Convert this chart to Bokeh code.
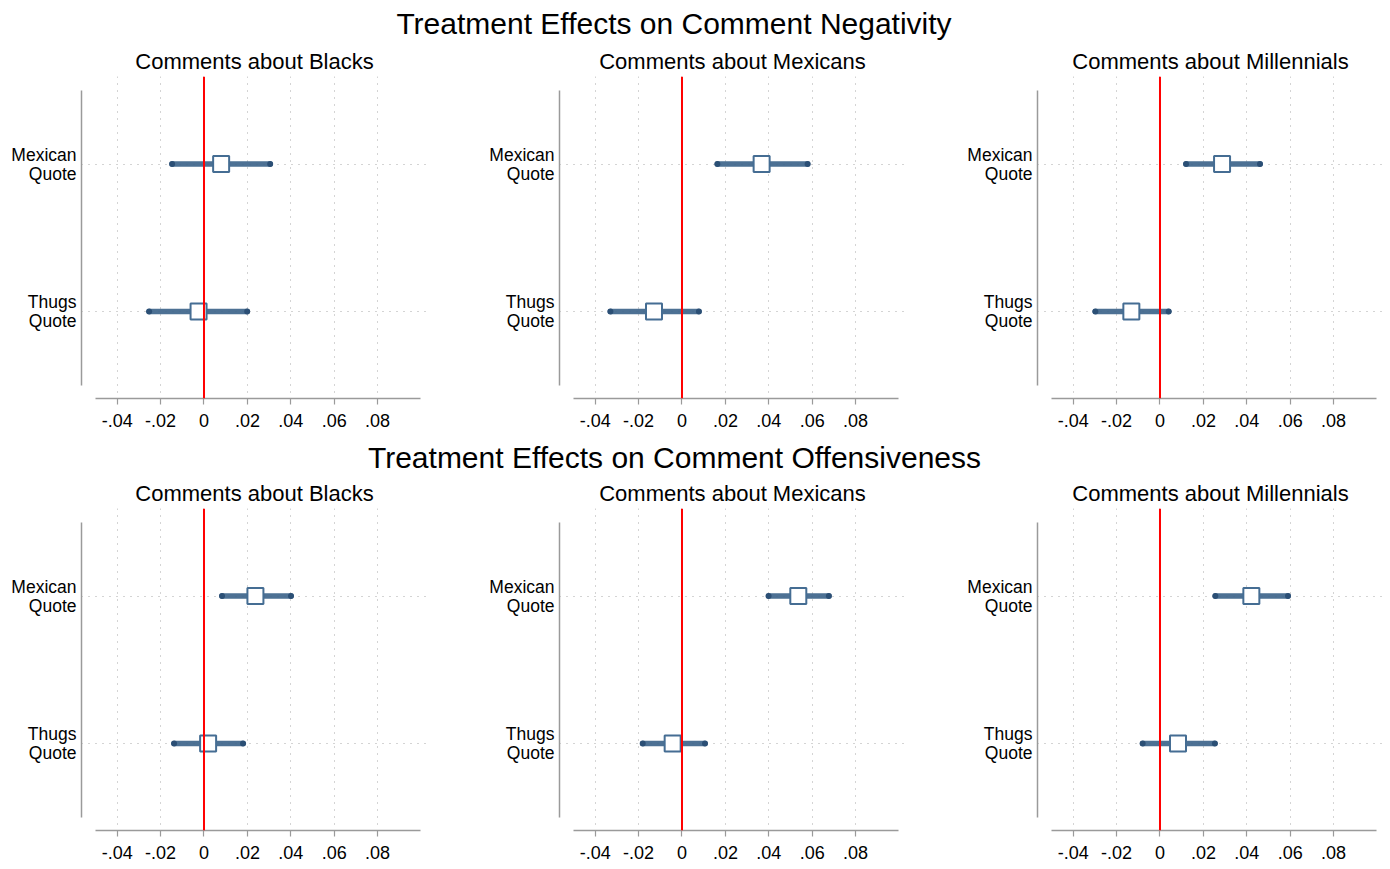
from bokeh.plotting import figure
from bokeh.layouts import column, row
from bokeh.models import Range1d, FixedTicker, Span, ColumnDataSource
from bokeh.core.properties import value
from bokeh.embed import file_html
from bokeh.resources import INLINE

# ---------------- data ----------------
categories = ["Mexican\nQuote", "Thugs\nQuote"]
cat_pos = [1, 2]
panel_titles = ["Comments about Blacks", "Comments about Mexicans", "Comments about Millennials"]
row_titles = ["Treatment Effects on Comment Negativity",
              "Treatment Effects on Comment Offensiveness"]
xtick_values = [-0.04, -0.02, 0.0, 0.02, 0.04, 0.06, 0.08]
xtick_labels = ["-.04", "-.02", "0", ".02", ".04", ".06", ".08"]

# Negativity: [Mexican Quote, Thugs Quote]
neg_blacks_est = [0.0079, -0.0025]
neg_blacks_lo = [-0.0147, -0.0253]
neg_blacks_hi = [0.0305, 0.0199]
neg_mexicans_est = [0.0367, -0.0129]
neg_mexicans_lo = [0.0163, -0.0330]
neg_mexicans_hi = [0.0579, 0.0078]
neg_millennials_est = [0.0286, -0.0132]
neg_millennials_lo = [0.0120, -0.0298]
neg_millennials_hi = [0.0461, 0.0040]

# Offensiveness
off_blacks_est = [0.0237, 0.0019]
off_blacks_lo = [0.0083, -0.0138]
off_blacks_hi = [0.0401, 0.0180]
off_mexicans_est = [0.0536, -0.0043]
off_mexicans_lo = [0.0399, -0.0181]
off_mexicans_hi = [0.0677, 0.0106]
off_millennials_est = [0.0421, 0.0083]
off_millennials_lo = [0.0255, -0.0080]
off_millennials_hi = [0.0590, 0.0253]

FONT = "Liberation Sans"
TOTAL_W = 1383
AXIS_GRAY = "#9a9a9a"
GRID_GRAY = "#a8a8a8"
BAR_COLOR = "#3e658b"
END_COLOR = "#2b4f75"
SQ_COLOR = "#456d93"

BORDER_L = 81
BORDER_T = 33
FRAME_H = 322
BORDER_B = 37
ROW_H = BORDER_T + FRAME_H + BORDER_B
FRAME_W = 346


def title_fig(text, h, yc, xc):
    p = figure(width=TOTAL_W, height=h, x_range=Range1d(0, TOTAL_W), y_range=Range1d(0, h),
               toolbar_location=None, output_backend="svg", min_border=0)
    p.axis.visible = False
    p.grid.visible = False
    p.outline_line_color = None
    p.text(x=[xc], y=[yc], text=[text], text_align="center", text_baseline="middle",
           text_font=value(FONT), text_font_size="30px", text_color="black")
    return p


def panel(title, est, lo, hi, last):
    mbr = 0 if last else 478 - BORDER_L - FRAME_W
    w = BORDER_L + FRAME_W + mbr
    p = figure(width=w, height=ROW_H,
               x_range=Range1d(-0.05645, 0.1030), y_range=Range1d(2.591, 0.406),
               toolbar_location=None, output_backend="svg",
               min_border_left=BORDER_L, min_border_right=mbr,
               min_border_top=BORDER_T, min_border_bottom=BORDER_B, title=title)
    p.outline_line_color = None
    p.title.text_font = FONT
    p.title.text_font_size = "22px"
    p.title.text_font_style = "normal"
    p.title.text_color = "black"
    p.title.align = "center"
    p.title.standoff = 5

    # x axis
    xa = p.xaxis[0]
    xa.ticker = FixedTicker(ticks=xtick_values)
    xa.major_label_overrides = {v: l for v, l in zip(xtick_values, xtick_labels)}
    xa.bounds = (-0.05, 0.1)
    xa.axis_line_color = AXIS_GRAY
    xa.axis_line_width = 1.5
    xa.major_tick_line_color = AXIS_GRAY
    xa.major_tick_line_width = 1.2
    xa.major_tick_out = 6
    xa.major_tick_in = 0
    xa.minor_tick_line_color = None
    xa.major_label_text_font = FONT
    xa.major_label_text_font_size = "18px"
    xa.major_label_text_color = "black"
    xa.major_label_standoff = 9

    # y axis
    ya = p.yaxis[0]
    ya.ticker = FixedTicker(ticks=cat_pos)
    ya.major_label_overrides = {c: l for c, l in zip(cat_pos, categories)}
    ya.bounds = (0.5, 2.5)
    ya.axis_line_color = AXIS_GRAY
    ya.axis_line_width = 1.5
    ya.major_tick_out = 0
    ya.major_tick_in = 0
    ya.major_tick_line_color = None
    ya.minor_tick_line_color = None
    ya.major_label_text_font = FONT
    ya.major_label_text_font_size = "17.5px"
    ya.major_label_text_line_height = 0.95
    ya.major_label_text_color = "black"
    ya.major_label_standoff = 5

    for g in (p.xgrid[0], p.ygrid[0]):
        g.grid_line_color = GRID_GRAY
        g.grid_line_dash = "1 6"
        g.grid_line_width = 1

    src = ColumnDataSource(dict(y=cat_pos, est=est, lo=lo, hi=hi))
    p.segment(x0="lo", y0="y", x1="hi", y1="y", source=src, line_width=5.5,
              line_color=BAR_COLOR, line_alpha=0.92, line_cap="round")
    p.scatter(x="lo", y="y", source=src, size=6, color=END_COLOR, line_width=0)
    p.scatter(x="hi", y="y", source=src, size=6, color=END_COLOR, line_width=0)
    p.scatter(x="est", y="y", source=src, marker="square", size=16,
              fill_color="white", line_color=SQ_COLOR, line_width=2)

    p.add_layout(Span(location=0, dimension="height", line_color="#ff0000", line_width=2))
    return p


top = row(
    panel(panel_titles[0], neg_blacks_est, neg_blacks_lo, neg_blacks_hi, False),
    panel(panel_titles[1], neg_mexicans_est, neg_mexicans_lo, neg_mexicans_hi, False),
    panel(panel_titles[2], neg_millennials_est, neg_millennials_lo, neg_millennials_hi, True),
)
bottom = row(
    panel(panel_titles[0], off_blacks_est, off_blacks_lo, off_blacks_hi, False),
    panel(panel_titles[1], off_mexicans_est, off_mexicans_lo, off_mexicans_hi, False),
    panel(panel_titles[2], off_millennials_est, off_millennials_lo, off_millennials_hi, True),
)

layout = column(
    title_fig(row_titles[0], 43, 20, 673.5),
    top,
    title_fig(row_titles[1], 40, 18, 674),
    bottom,
)

open("out.html", "w").write(file_html(layout, INLINE))
